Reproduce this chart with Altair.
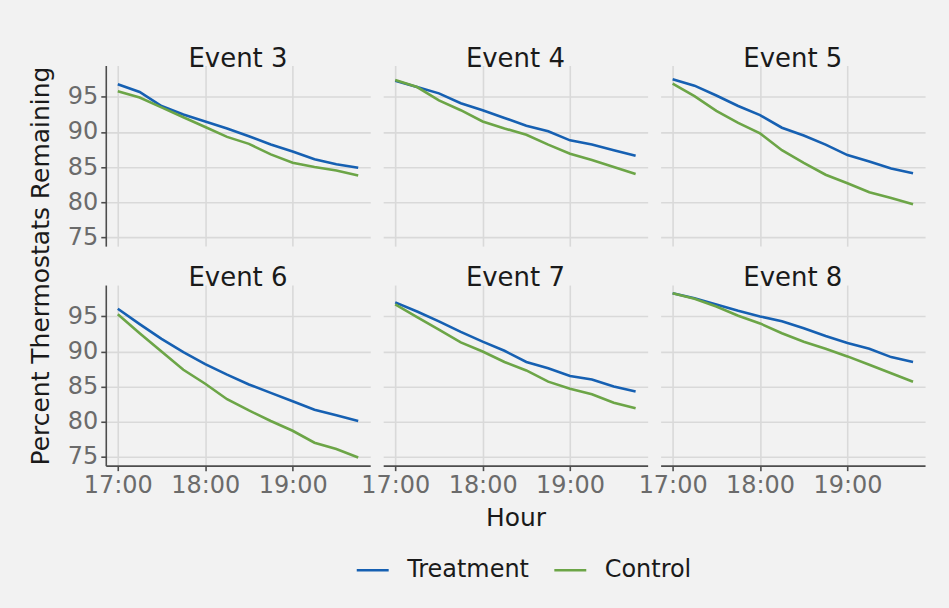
import altair as alt
import pandas as pd

# Quarter-hour readings from 17:00 to 19:45
times = ["17:00", "17:15", "17:30", "17:45", "18:00", "18:15",
         "18:30", "18:45", "19:00", "19:15", "19:30", "19:45"]

events = [3, 4, 5, 6, 7, 8]
groups = ["Treatment", "Control"]

treatment = {
    3: [96.8, 95.7, 93.7, 92.5, 91.5, 90.5, 89.4, 88.2, 87.2, 86.1, 85.4, 84.9],
    4: [97.3, 96.4, 95.5, 94.1, 93.1, 92.0, 90.9, 90.1, 88.8, 88.2, 87.4, 86.6],
    5: [97.5, 96.6, 95.2, 93.7, 92.4, 90.6, 89.5, 88.2, 86.7, 85.8, 84.8, 84.1],
    6: [96.1, 93.9, 91.8, 89.9, 88.2, 86.7, 85.3, 84.1, 82.9, 81.7, 80.9, 80.1],
    7: [97.0, 95.7, 94.3, 92.8, 91.4, 90.1, 88.5, 87.6, 86.5, 86.0, 85.0, 84.3],
    8: [98.3, 97.6, 96.7, 95.8, 95.0, 94.3, 93.3, 92.2, 91.2, 90.4, 89.2, 88.5],
}
control = {
    3: [95.8, 94.9, 93.5, 92.1, 90.7, 89.3, 88.3, 86.8, 85.6, 85.0, 84.5, 83.8],
    4: [97.4, 96.4, 94.5, 93.1, 91.5, 90.5, 89.6, 88.2, 86.9, 86.0, 85.0, 84.0],
    5: [96.9, 95.1, 93.0, 91.3, 89.8, 87.4, 85.6, 83.9, 82.7, 81.4, 80.6, 79.7],
    6: [95.3, 92.6, 90.0, 87.4, 85.4, 83.2, 81.6, 80.1, 78.7, 77.0, 76.1, 74.9],
    7: [96.7, 94.9, 93.1, 91.3, 90.0, 88.5, 87.3, 85.7, 84.7, 83.9, 82.7, 81.9],
    8: [98.3, 97.5, 96.4, 95.1, 94.0, 92.6, 91.4, 90.4, 89.3, 88.1, 86.9, 85.7],
}

x_ticks = [17, 18, 19]
y_ticks = [75, 80, 85, 90, 95]

BLUE = "#1660b2"
GREEN = "#6ca547"
FONT = "DejaVu Sans"


def to_hours(t):
    h, m = t.split(":")
    return int(h) + int(m) / 60.0


rows = []
for ev in events:
    for grp, series in (("Treatment", treatment), ("Control", control)):
        for t, v in zip(times, series[ev]):
            rows.append({"event": ev, "group": grp, "time": t,
                         "hour": to_hours(t), "pct": v})
df = pd.DataFrame(rows)

# ggplot-style 5% expansion around the data range
x_min, x_max = to_hours(times[0]), to_hours(times[-1])
x_pad = (x_max - x_min) * 0.05
all_vals = [v for s in (treatment, control) for ev in events for v in s[ev]]
y_min, y_max = min(all_vals), max(all_vals)
y_pad = (y_max - y_min) * 0.05

x_scale = alt.Scale(domain=[x_min - x_pad, x_max + x_pad], nice=False, zero=False)
y_scale = alt.Scale(domain=[y_min - y_pad, y_max + y_pad], nice=False, zero=False)
color_scale = alt.Scale(domain=groups, range=[BLUE, GREEN])

PANEL_W = 265
PANEL_H = 181
ROW_GAP = 39


def panel(ev, r, c):
    bottom = r == 1
    left = c == 0
    if bottom:
        x_axis = alt.Axis(values=x_ticks, labelExpr="datum.value + ':00'",
                          grid=True, domain=True, ticks=True, labels=True,
                          labelFlush=False, labelOverlap=False,
                          title="Hour" if c == 1 else None, titlePadding=8)
    else:
        x_axis = alt.Axis(values=x_ticks, grid=True, domain=False,
                          ticks=False, labels=False, title=None)
    if left:
        y_kw = dict(values=y_ticks, grid=True, domain=True, ticks=True,
                    labels=True)
        if not bottom:
            # one shared title, centred over both rows of panels
            y_axis = alt.Axis(title="Percent Thermostats Remaining",
                              titleAngle=270, titleX=-52,
                              titleY=PANEL_H + ROW_GAP / 2,
                              titleAlign="center", titleBaseline="bottom",
                              **y_kw)
        else:
            y_axis = alt.Axis(title=None, **y_kw)
    else:
        y_axis = alt.Axis(values=y_ticks, grid=True, domain=False,
                          ticks=False, labels=False, title=None)

    return (
        alt.Chart(df)
        .transform_filter(alt.datum.event == ev)
        .mark_line(strokeWidth=2.6)
        .encode(
            x=alt.X("hour:Q", scale=x_scale, axis=x_axis),
            y=alt.Y("pct:Q", scale=y_scale, axis=y_axis),
            color=alt.Color(
                "group:N", scale=color_scale,
                legend=alt.Legend(
                    title=None, orient="none", direction="horizontal",
                    legendX=250, legendY=488,
                    symbolType="stroke", symbolSize=1024,
                    symbolStrokeWidth=2.6, labelFontSize=24,
                    labelFont=FONT, labelColor="#1a1a1a",
                    labelOffset=17, columnPadding=19,
                ),
            ),
            detail="group:N",
            order="hour:Q",
        )
        .properties(
            width=PANEL_W, height=PANEL_H,
            title=alt.TitleParams(
                f"Event {ev}", fontSize=26, font=FONT, fontWeight="normal",
                color="#1a1a1a", anchor="middle", baseline="alphabetic",
                offset=-27, frame="group",
            ),
        )
    )


cells = [panel(events[r * 3 + c], r, c) for r in range(2) for c in range(3)]

chart = (
    alt.concat(*cells, columns=3, spacing={"row": ROW_GAP, "column": 13},
               bounds="flush")
    .resolve_scale(color="shared")
    .properties(
        background="#f2f2f2",
        padding={"left": 28, "right": 24, "top": 45, "bottom": 25},
    )
    .configure_view(stroke=None)
    .configure_axis(
        gridColor="#d9d9d9", gridWidth=1.6,
        domainColor="#4d4d4d", domainWidth=1.6,
        tickColor="#4d4d4d", tickWidth=1.6, tickSize=5,
        labelFont=FONT, labelFontSize=24, labelColor="#6b6b6b",
        labelPadding=3,
        titleFont=FONT, titleFontSize=25, titleColor="#1a1a1a",
        titleFontWeight="normal",
    )
)

chart.save("out.html", embed_options={"renderer": "svg", "actions": False})
